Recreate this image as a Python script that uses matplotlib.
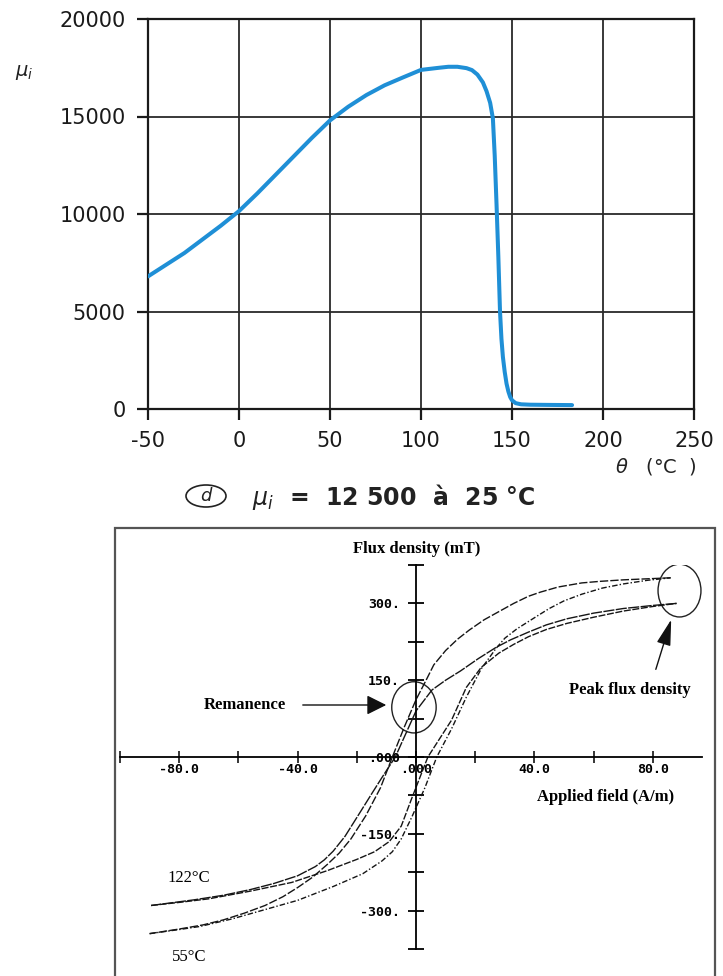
import numpy as np
import matplotlib
matplotlib.use("Agg")
import matplotlib.pyplot as plt
from matplotlib.patches import Ellipse, Rectangle

# --- DATA ---
# top: initial permeability vs temperature
theta = [-50, -40, -30, -20, -10, 0, 10, 20, 30, 40, 50, 60, 70, 80, 90, 100,
         110, 115, 120, 125, 128, 131, 134, 136, 138, 139.5, 140.5, 141.5,
         142.5, 143.4, 144.2, 145, 146, 147, 148, 149, 150, 152, 155, 160,
         170, 183]
mu_i = [6800, 7400, 8000, 8700, 9400, 10150, 11050, 12000, 12950, 13900, 14800,
        15500, 16100, 16600, 17000, 17390, 17500, 17550, 17550, 17480, 17380,
        17150, 16750, 16300, 15700, 14900, 13000, 10500, 7800, 5030, 3600,
        2670, 1900, 1300, 900, 615, 450, 300, 240, 220, 210, 200]
theta_ticks = [-50, 0, 50, 100, 150, 200, 250]
mu_ticks = [0, 5000, 10000, 15000, 20000]

# bottom: B-H loops (H in A/m, B in mT)
h55_down = [86, 78, 70, 62, 56, 48, 42, 38, 33, 28, 23, 18, 14, 10, 6, 3.4,
            0, -4, -8, -12, -17, -22, -26, -30, -35, -40, -45, -51, -58, -65,
            -72, -80, -90]
b55_down = [350, 348, 346, 343, 340, 332, 322, 314, 300, 284, 268, 248, 230,
            208, 180, 150, 112, 58, 0, -60, -115, -160, -188, -210, -235, -255,
            -273, -290, -305, -318, -328, -336, -345]
h55_up = [-90, -80, -73, -62, -51, -40, -28, -18, -11.5, -8, -5, -1.4, 3, 7,
          12, 17, 22, 27, 30, 34, 40, 45, 50, 56, 63, 70, 78, 86]
b55_up = [-345, -337, -331, -316, -298, -280, -253, -228, -203, -185, -160,
          -117, -60, 0, 55, 117, 172, 212, 232, 250, 272, 290, 305, 318, 330,
          338, 345, 350]
h122_down = [88, 80, 70, 60, 51, 44, 38, 32, 27, 21, 15, 10, 5.4, 0, -7,
             -11.5, -15, -19, -24, -28, -31, -34, -40, -48, -56, -65, -75,
             -89.5]
b122_down = [300, 296, 290, 281, 270, 258, 244, 229, 214, 192, 168, 150, 131,
             90, 0, -40, -72, -109, -155, -184, -201, -214, -232, -247, -259,
             -270, -279, -290]
h122_up = [-89.5, -80, -70, -56, -42, -30, -20, -14, -9, -5, -1.4, 4, 12, 17,
           22, 28, 33, 38, 44, 51, 60, 70, 80, 88]
b122_up = [-290, -284, -277, -262, -245, -222, -200, -185, -165, -135, -80, 0,
           72, 136, 175, 203, 220, 235, 249, 261, 273, 285, 294, 300]
h_major = [-80, -40, 0, 40, 80]
h_labels = ["-80.0", "-40.0", ".000", "40.0", "80.0"]
b_major = [-300, -150, 0, 150, 300]
b_labels = ["-300.", "-150.", ".000", "150.", "300."]

W, H = 723, 976


def fx(x):
    return x / W


def fy(y):
    return 1 - y / H


fig = plt.figure(figsize=(W / 100, H / 100), dpi=100)

# ---------------- top chart ----------------
ax1 = fig.add_axes([fx(148), fy(409), 546 / W, 390 / H])
ax1.plot(theta, mu_i, color="#1f8fd6", lw=2.9, solid_capstyle="round",
         solid_joinstyle="round", zorder=3)
ax1.set_xlim(-50, 250)
ax1.set_ylim(0, 20000)
ax1.set_xticks(theta_ticks)
ax1.set_xticklabels([str(t) for t in theta_ticks])
ax1.set_yticks(mu_ticks)
ax1.set_yticklabels([str(m) for m in mu_ticks])
ax1.grid(True, color="#2a2a2a", lw=1.3)
for s in ax1.spines.values():
    s.set_linewidth(1.6)
    s.set_color("#1a1a1a")
ax1.tick_params(direction="out", length=8, width=1.6, labelsize=15, pad=8,
                colors="#1a1a1a")
for lab in ax1.get_xticklabels() + ax1.get_yticklabels():
    lab.set_family("DejaVu Sans")

fig.text(fx(24), fy(72), r"$\mu_i$", fontsize=14, ha="center", va="center",
         color="#222")
fig.text(fx(697), fy(467), r"$\theta$   (°C  )", fontsize=14, ha="right",
         va="center", color="#222")

# caption
fig.patches.append(Ellipse((fx(206), fy(496)), 40 / W, 22 / H, fill=False,
                           lw=1.2, color="#222", transform=fig.transFigure))
fig.text(fx(206), fy(496), "d", fontsize=13, style="italic",
         ha="center", va="center", color="#222")
fig.text(fx(252), fy(497), r"$\mu_i$  =  12 500  à  25 °C", fontsize=17,
         fontweight="bold", ha="left", va="center", color="#222")

# ---------------- bottom chart ----------------
fig.patches.append(Rectangle((fx(115), fy(980)), 600 / W, 452 / H, fill=False,
                             lw=1.6, edgecolor="#555", transform=fig.transFigure))

ax2 = fig.add_axes([fx(120), fy(949), 582 / W, 384 / H])
ax2.set_xlim(-100, 96.6)
ax2.set_ylim(-375, 375)
ax2.patch.set_alpha(0)
for side in ["top", "right"]:
    ax2.spines[side].set_visible(False)
ax2.spines["left"].set_position(("data", 0))
ax2.spines["bottom"].set_position(("data", 0))
ax2.spines["left"].set_linewidth(1.3)
ax2.spines["bottom"].set_linewidth(1.3)

ax2.set_xticks(h_major)
ax2.set_xticklabels(h_labels)
ax2.set_xticks([-100, -60, -20, 20, 60], minor=True)
ax2.set_yticks(b_major)
ax2.set_yticklabels(b_labels)
ax2.set_yticks([-375, -225, -75, 75, 225, 375], minor=True)
ax2.tick_params(axis="x", which="both", direction="inout", length=8, width=1.1,
                pad=0, labelsize=9.5)
ax2.tick_params(axis="y", which="both", direction="inout", length=11, width=1.3,
                pad=6, labelsize=9.5)
for lab in ax2.get_xticklabels() + ax2.get_yticklabels():
    lab.set_family("DejaVu Sans Mono")
    lab.set_fontweight("bold")

ln = dict(color="#151515", lw=1.0)
ax2.plot(h55_down, b55_down, ls=(0, (6, 1.5)), **ln)
ax2.plot(h55_up, b55_up, ls=(0, (4, 1.5, 1, 1.5)), **ln)
ax2.plot(h122_down, b122_down, ls=(0, (8, 1)), **ln)
ax2.plot(h122_up, b122_up, ls=(0, (5, 1.2)), **ln)

# circles marking remanence and peak flux density
ax2.add_patch(Ellipse((-0.7, 97), 15, 100, fill=False, lw=1.0, color="#222"))
ax2.add_patch(Ellipse((89, 325), 14.5, 103, fill=False, lw=1.0, color="#222"))

serif = "Liberation Serif"
fig.text(fx(417), fy(549), "Flux density (mT)", family=serif, fontweight="bold",
         fontsize=12, ha="center", va="center")
fig.text(fx(537), fy(797), "Applied field (A/m)", family=serif, fontweight="bold",
         fontsize=12, ha="left", va="center")
fig.text(fx(245), fy(705), "Remanence", family=serif, fontweight="bold",
         fontsize=12, ha="center", va="center")
fig.text(fx(630), fy(690), "Peak flux density", family=serif, fontweight="bold",
         fontsize=12, ha="center", va="center")
fig.text(fx(167), fy(878), "122°C", family=serif, fontsize=12, ha="left",
         va="center")
fig.text(fx(172), fy(957), "55°C", family=serif, fontsize=12, ha="left",
         va="center")

ax2.annotate("", xy=(fx(389), fy(705)), xycoords="figure fraction",
             xytext=(fx(300), fy(705)), textcoords="figure fraction",
             arrowprops=dict(arrowstyle="-|>,head_length=0.6,head_width=0.3",
                             mutation_scale=20, lw=1.0, color="#111"))
ax2.annotate("", xy=(fx(672), fy(617)), xycoords="figure fraction",
             xytext=(fx(655), fy(672)), textcoords="figure fraction",
             arrowprops=dict(arrowstyle="-|>,head_length=0.8,head_width=0.22",
                             mutation_scale=20, lw=1.0, color="#111"))

fig.savefig("out.png", dpi=100)
